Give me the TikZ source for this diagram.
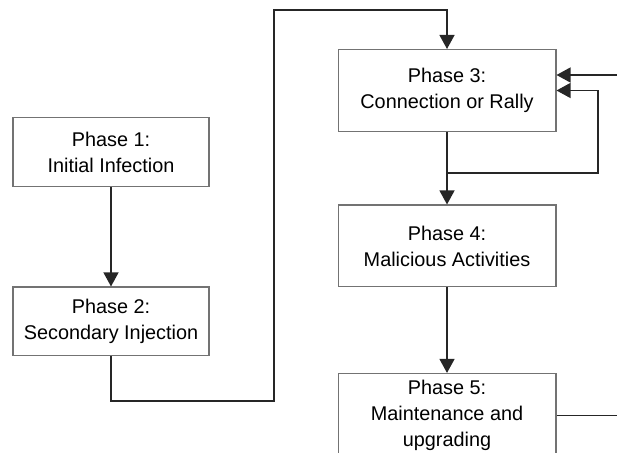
\documentclass[tikz,border=0pt]{standalone}
\usepackage{fontspec}
\setmainfont{Liberation Sans}
\usetikzlibrary{arrows.meta}
\tikzset{%
  >={Triangle[width=0.3cm,length=0.28cm]},
  % Specifications for style of nodes:
          base/.style = {rectangle, draw=black!55, line width=0.6pt,
                         text centered, align=center, inner sep=2pt,
                         font=\fontsize{11.3}{14.8}\selectfont},
     phaseLeft/.style = {base, minimum width=3.92cm, minimum height=1.38cm},
    phaseRight/.style = {base, minimum width=4.36cm, minimum height=1.64cm},
          flow/.style = {line width=0.75pt, black!85},
}

\begin{document}
\begin{tikzpicture}[x=0.02cm, y=-0.02cm, node distance=3.39cm]
                    \useasboundingbox (0,0) rectangle (617,452);
                    \clip (0,0) rectangle (617,452);
                    \node (phase1) [phaseLeft] at (111,152) {Phase 1:\\Initial Infection};
                    \node (phase2) [phaseLeft, below of=phase1] {Phase 2:\\Secondary Injection};
                    \node (phase3) [phaseRight] at (447,90.5) {Phase 3:\\Connection or Rally};
                    \node (phase4) [phaseRight, below of=phase3, yshift=0.28cm] {Phase 4:\\Malicious Activities};
                    \node (phase5) [phaseRight, below of=phase4, minimum height=1.68cm] {Phase 5:\\Maintenance and\\upgrading};

                    % turning points of the connectors
                    \coordinate (lowTurn) at (274,401);
                    \coordinate (topTurn) at (274,10);
                    \coordinate (sideIn) at (617,75);
                    \coordinate (loopSplit) at (447,173);
                    \coordinate (loopRight) at (598,173);
                    \coordinate (sideOut) at (617,415);

                    \draw[flow,->] (phase1) -- (phase2);
                    \draw[flow,->] (phase2) |- (lowTurn) -- (topTurn) -| (phase3);
                    \draw[flow,->] (phase3) -- (phase4);
                    \draw[flow,->] (sideIn) -- (sideIn -| phase3.east);
                    \draw[flow,->] (loopSplit) -- (loopRight) |- (phase3.east);
                    \draw[flow,->] (phase4) -- (phase5);
                    \draw[flow] (phase5.east) -- (phase5.east -| sideOut);
                \end{tikzpicture}
\end{document}
